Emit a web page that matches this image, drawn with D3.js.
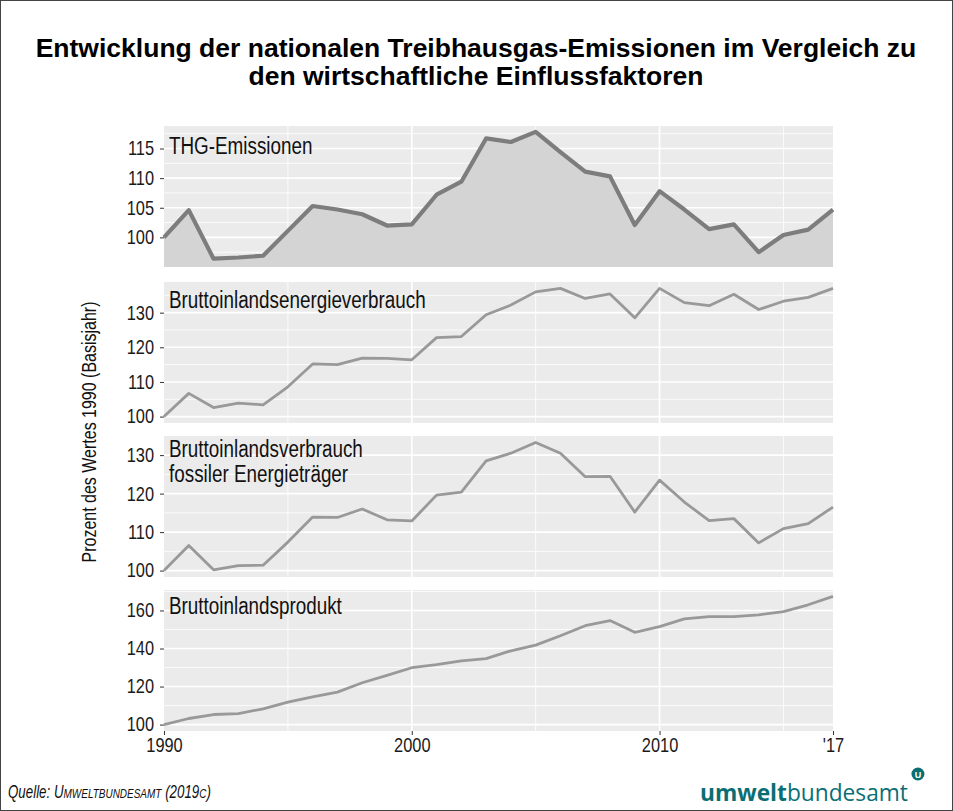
<!DOCTYPE html>
<html lang="de">
<head>
<meta charset="UTF-8">
<title>Treibhausgas-Emissionen und Einflussfaktoren</title>
<script src="https://d3js.org/d3.v7.min.js"></script>
<style>
  body { margin: 0; background: #fff; }
  svg { display: block; }
  .tick text { font-family: "Liberation Sans", Arial, sans-serif; font-size: 20px; fill: #1a1a1a; }
  .tick line { stroke: #333; }
  .domain { display: none; }
</style>
</head>
<body>
<svg id="chart" width="953" height="811"></svg>
<script>
const years = d3.range(1990, 2018);

const thg = [100.0, 104.6, 96.4, 96.6, 96.9, 101.1, 105.3, 104.7, 103.9, 102.0,
  102.2, 107.2, 109.4, 116.7, 116.1, 117.8, 114.4, 111.1, 110.3, 102.1,
  107.8, 104.7, 101.4, 102.2, 97.5, 100.4, 101.3, 104.7];
const energie = [100.0, 106.7, 102.6, 103.9, 103.4, 108.6, 115.2, 115.0, 116.9, 116.8,
  116.4, 122.8, 123.1, 129.4, 132.2, 136.0, 137.0, 134.1, 135.4, 128.5,
  137.0, 132.9, 132.0, 135.3, 130.9, 133.3, 134.4, 137.0];
const fossil = [100.0, 106.5, 100.2, 101.3, 101.4, 107.4, 113.9, 113.8, 116.0, 113.2,
  112.9, 119.6, 120.4, 128.5, 130.5, 133.3, 130.5, 124.4, 124.5, 115.2,
  123.5, 117.8, 113.0, 113.5, 107.2, 110.9, 112.2, 116.5];
const bip = [100.0, 103.2, 105.3, 105.8, 108.3, 111.8, 114.6, 117.1, 122.0, 125.9,
  129.9, 131.5, 133.5, 134.7, 138.8, 141.8, 146.7, 152.0, 154.7, 148.5,
  151.5, 155.6, 156.8, 156.8, 157.7, 159.4, 163.0, 167.4];

const panelLabels = [["THG-Emissionen"], ["Bruttoinlandsenergieverbrauch"],
  ["Bruttoinlandsverbrauch", "fossiler Energieträger"], ["Bruttoinlandsprodukt"]];
const yTicks = [[100, 105, 110, 115], [100, 110, 120, 130], [100, 110, 120, 130], [100, 120, 140, 160]];
const xTicks = [1990, 2000, 2010, 2017];
const xTickLabels = ["1990", "2000", "2010", "'17"];
const xMinor = [1995, 2005, 2015];

const series = [thg, energie, fossil, bip];

const svg = d3.select("#chart");
const W = 953, H = 811;
const narrow = 0.82; // Arial-Narrow-Ersatz: horizontal gestauchte Liberation Sans
const sansFont = "'Liberation Sans', Arial, sans-serif";

svg.append("rect").attr("x", 0.5).attr("y", 0.5).attr("width", W - 1).attr("height", H - 1)
  .attr("fill", "#fff").attr("stroke", "#444").attr("stroke-width", 1);

// Titel
const title = svg.append("text").attr("text-anchor", "middle")
  .style("font-family", sansFont).style("font-weight", "bold")
  .style("font-size", "26.5px").attr("fill", "#000");
title.append("tspan").attr("x", 476).attr("y", 57)
  .text("Entwicklung der nationalen Treibhausgas-Emissionen im Vergleich zu");
title.append("tspan").attr("x", 476).attr("y", 85)
  .text("den wirtschaftliche Einflussfaktoren");

const left = 164, right = 833;
const panelH = 141;
const tops = [126, 282, 436, 590];
const labelOffset = [28, 26, 21, 24];

const x = d3.scaleLinear().domain([1990, 2017]).range([left, right]);

function squeezeTicks(sel, dx) {
  sel.selectAll(".tick text")
    .attr("transform", `scale(${narrow},1)`)
    .attr("x", dx / narrow);
}

series.forEach((vals, i) => {
  const top = tops[i], bottom = top + panelH;
  const data = years.map((yr, j) => ({ yr, v: vals[j] }));
  const lo = d3.min(vals), hi = d3.max(vals), pad = (hi - lo) * 0.05;
  const domain = i === 0 ? [95, hi + 1] : [lo - pad, hi + pad];
  const y = d3.scaleLinear().domain(domain).range([bottom, top]);

  const g = svg.append("g");
  g.append("rect").attr("x", left).attr("y", top).attr("width", right - left).attr("height", panelH)
    .attr("fill", "#ebebeb");

  // Gitter
  const step = yTicks[i][1] - yTicks[i][0];
  const minorY = d3.range(yTicks[i][0] - step / 2, domain[1], step).filter(v => v > domain[0] && v < domain[1]);
  g.selectAll(".gmy").data(minorY).enter().append("line")
    .attr("x1", left).attr("x2", right).attr("y1", d => y(d)).attr("y2", d => y(d))
    .attr("stroke", "#fff").attr("stroke-width", 0.8);
  g.selectAll(".gMy").data(yTicks[i]).enter().append("line")
    .attr("x1", left).attr("x2", right).attr("y1", d => y(d)).attr("y2", d => y(d))
    .attr("stroke", "#fff").attr("stroke-width", 1.6);
  g.selectAll(".gmx").data(xMinor).enter().append("line")
    .attr("x1", d => x(d)).attr("x2", d => x(d)).attr("y1", top).attr("y2", bottom)
    .attr("stroke", "#fff").attr("stroke-width", 0.8);
  g.selectAll(".gMx").data([2000, 2010]).enter().append("line")
    .attr("x1", d => x(d)).attr("x2", d => x(d)).attr("y1", top).attr("y2", bottom)
    .attr("stroke", "#fff").attr("stroke-width", 1.6);

  if (i === 0) {
    g.append("path").datum(data)
      .attr("d", d3.area().x(d => x(d.yr)).y0(bottom).y1(d => y(d.v)))
      .attr("fill", "#d4d4d4");
    g.append("path").datum(data)
      .attr("d", d3.line().x(d => x(d.yr)).y(d => y(d.v)))
      .attr("fill", "none").attr("stroke", "#7d7d7d").attr("stroke-width", 4.2)
      .attr("stroke-linejoin", "round");
  } else {
    g.append("path").datum(data)
      .attr("d", d3.line().x(d => x(d.yr)).y(d => y(d.v)))
      .attr("fill", "none").attr("stroke", "#999").attr("stroke-width", 2.8)
      .attr("stroke-linejoin", "round");
  }

  const ya = g.append("g").attr("transform", `translate(${left},0)`)
    .call(d3.axisLeft(y).tickValues(yTicks[i]).tickSize(4).tickPadding(3));
  squeezeTicks(ya, -10);

  panelLabels[i].forEach((t, k) => {
    g.append("text")
      .attr("transform", `translate(${left + 5},${top + labelOffset[i] + k * 25}) scale(${narrow},1)`)
      .style("font-family", sansFont).style("font-size", "23px").attr("fill", "#111")
      .text(t);
  });

  if (i === 3) {
    const xa = g.append("g").attr("transform", `translate(0,${bottom})`)
      .call(d3.axisBottom(x).tickValues(xTicks).tickFormat((d, k) => xTickLabels[k]).tickSize(4).tickPadding(3));
    xa.selectAll(".tick text").attr("transform", `scale(${narrow},1)`);
  }
});

// y-Achsentitel
svg.append("text")
  .attr("transform", `translate(96,432) rotate(-90) scale(${narrow},1)`)
  .attr("text-anchor", "middle")
  .style("font-family", sansFont)
  .style("font-size", "19.5px").attr("fill", "#111")
  .text("Prozent des Wertes 1990 (Basisjahr)");

// Quelle
const src = svg.append("text").attr("transform", "translate(8,798) scale(0.74,1)")
  .style("font-family", sansFont).style("font-style", "italic")
  .style("font-size", "18px").attr("fill", "#111");
src.append("tspan").text("Quelle: U");
src.append("tspan").style("font-size", "13.5px").text("MWELTBUNDESAMT");
src.append("tspan").text(" (2019");
src.append("tspan").style("font-size", "13.5px").text("C");
src.append("tspan").text(")");

// Logo: Schriftgroesse so waehlen, dass der Schriftzug ca. 210 px breit ist
const teal = "#0a6f74";
const logo = svg.append("text").attr("x", 700).attr("y", 801)
  .style("font-family", "'Open Sans', 'DejaVu Sans', sans-serif")
  .style("font-size", "26px").attr("fill", teal);
logo.append("tspan").style("font-weight", "bold").text("umwelt");
logo.append("tspan").style("font-weight", "normal").text("bundesamt");
const natural = logo.node().getComputedTextLength();
logo.style("font-size", (26 * 208 / natural).toFixed(2) + "px");
const logoEnd = 700 + logo.node().getComputedTextLength();
svg.append("circle").attr("cx", logoEnd + 10).attr("cy", 774).attr("r", 6.5).attr("fill", teal);
svg.append("text").attr("x", logoEnd + 10).attr("y", 777.5).attr("text-anchor", "middle")
  .style("font-family", sansFont).style("font-weight", "bold")
  .style("font-size", "9px").attr("fill", "#fff").text("U");
</script>
</body>
</html>
